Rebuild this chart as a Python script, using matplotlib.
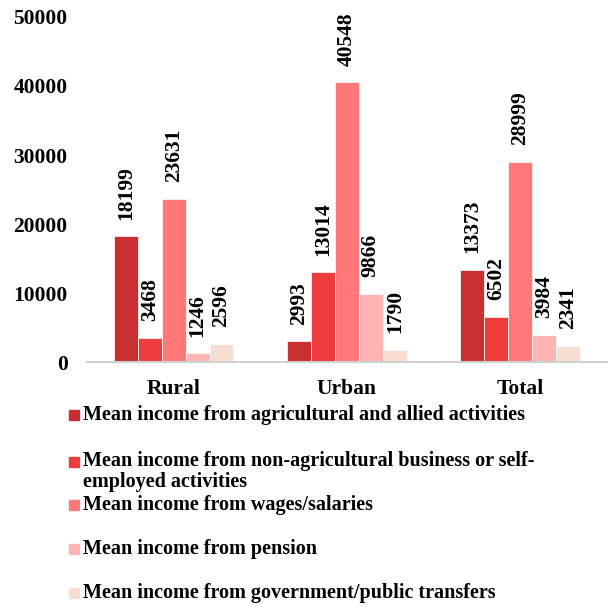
import matplotlib
matplotlib.use("Agg")
import matplotlib.pyplot as plt
import numpy as np

plt.rc("font", family="Liberation Serif", weight="bold", size=15.5)

regions = ["Rural", "Urban", "Total"]
sources = [
    "Mean income from agricultural and allied activities",
    "Mean income from non-agricultural business or self-\nemployed activities",
    "Mean income from wages/salaries",
    "Mean income from pension",
    "Mean income from government/public transfers",
]
agri = [18199, 2993, 13373]
non_agri = [3468, 13014, 6502]
wages = [23631, 40548, 28999]
pension = [1246, 9866, 3984]
transfers = [2596, 1790, 2341]
series = [agri, non_agri, wages, pension, transfers]
colors = ["#C82F30", "#EE3B3C", "#FF7878", "#FFB3B3", "#F8DDD3"]

fig = plt.figure(figsize=(6.13, 6.07), dpi=100)
ax = fig.add_axes([0.142, 0.4036, 0.848, 0.5684])

x = np.arange(len(regions))
width = 0.138
for i, (vals, c) in enumerate(zip(series, colors)):
    pos = x + (i - 2) * width
    ax.bar(pos, vals, width, color=c, edgecolor="white", linewidth=0.5)
    for px, v in zip(pos, vals):
        ax.annotate(str(v), (px, v), xytext=(0, 12), textcoords="offset points",
                    rotation=90, ha="center", va="bottom", fontweight="bold")

ax.set_xlim(-0.5, 2.5)
ax.set_ylim(0, 50000)
ax.set_yticks(np.arange(0, 50001, 10000))
ax.set_xticks(x)
ax.set_xticklabels(regions)
ax.tick_params(axis="both", length=0)
ax.tick_params(axis="y", pad=14)
ax.tick_params(axis="x", pad=12)
for s in ["top", "right", "left"]:
    ax.spines[s].set_visible(False)
ax.spines["bottom"].set_color("#D0D0D0")
ax.spines["bottom"].set_linewidth(1.5)

# legend drawn by hand to mimic the uneven spacing
H = 607.0
rows = [415, 462, 505, 549, 593]
for lab, c, yy in zip(sources, colors, rows):
    fig.patches.append(plt.Rectangle((69 / 613, 1 - (yy + 5) / H), 10 / 613, 10 / H,
                                     transform=fig.transFigure, color=c))
    if "\n" in lab:
        fig.text(83 / 613, 1 - (yy - 11) / H, lab, va="top", ha="left",
                 linespacing=1.1, fontweight="bold", fontsize=14.5)
    else:
        fig.text(83 / 613, 1 - yy / H, lab, va="center", ha="left",
                 fontweight="bold", fontsize=14.5)

fig.savefig("out.png", dpi=100)
